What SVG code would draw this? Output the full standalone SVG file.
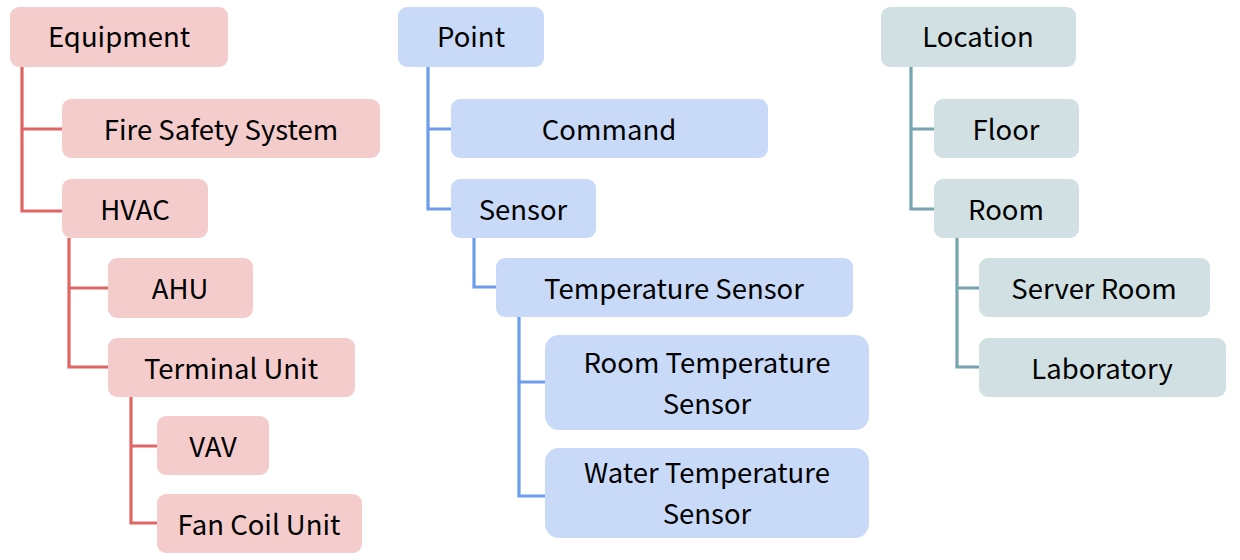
<svg xmlns="http://www.w3.org/2000/svg" width="1240" height="560" viewBox="0 0 1240 560">
<style>
text{font-family:"Noto Sans CJK SC","Noto Sans",sans-serif;font-size:27.5px;fill:#000;text-anchor:middle}
.r rect{fill:#f4cccc}
.b rect{fill:#c9daf8}
.t rect{fill:#d0e0e3}
.c path{fill:none;stroke-width:3.2}
.cr{stroke:#e06666}
.cb{stroke:#6d9eeb}
.ct{stroke:#76a5af}
</style>
<rect width="1240" height="560" fill="#fff"/>
<g id="connectors" class="c">
<path class="cr" d="M22 67V211H62M22 129H62"/>
<path class="cr" d="M69 238V367H108M69 288H108"/>
<path class="cr" d="M131 397V523H157M131 446H157"/>
<path class="cb" d="M428 67V209H451M428 129H451"/>
<path class="cb" d="M474 238V287H496"/>
<path class="cb" d="M519 317V496H545M519 382H545"/>
<path class="ct" d="M911 67V209H934M911 129H934"/>
<path class="ct" d="M957 238V367H979M957 288H979"/>
</g>
<g id="equipment" class="r"><rect x="10" y="7" width="218" height="60" rx="9"/><text x="119" y="47">Equipment</text></g>
<g id="fire-safety" class="r"><rect x="62" y="99" width="318" height="59" rx="9"/><text x="221" y="140">Fire Safety System</text></g>
<g id="hvac" class="r"><rect x="62" y="179" width="146" height="59" rx="9"/><text x="135" y="220">HVAC</text></g>
<g id="ahu" class="r"><rect x="108" y="258" width="145" height="60" rx="9"/><text x="180" y="299">AHU</text></g>
<g id="terminal-unit" class="r"><rect x="108" y="338" width="247" height="59" rx="9"/><text x="231" y="379">Terminal Unit</text></g>
<g id="vav" class="r"><rect x="157" y="416" width="112" height="59" rx="9"/><text x="213" y="457">VAV</text></g>
<g id="fan-coil" class="r"><rect x="157" y="494" width="205" height="59" rx="9"/><text x="259" y="535">Fan Coil Unit</text></g>
<g id="point" class="b"><rect x="398" y="7" width="146" height="60" rx="9"/><text x="471" y="47">Point</text></g>
<g id="command" class="b"><rect x="451" y="99" width="317" height="59" rx="9"/><text x="609" y="140">Command</text></g>
<g id="sensor" class="b"><rect x="451" y="179" width="145" height="59" rx="9"/><text x="523" y="220">Sensor</text></g>
<g id="temp-sensor" class="b"><rect x="496" y="258" width="357" height="59" rx="9"/><text x="674" y="299">Temperature Sensor</text></g>
<g id="room-temp" class="b"><rect x="545" y="335" width="324" height="95" rx="14"/><text x="707" y="373">Room Temperature<tspan x="707" dy="40.5">Sensor</tspan></text></g>
<g id="water-temp" class="b"><rect x="545" y="448" width="324" height="90" rx="14"/><text x="707" y="483">Water Temperature<tspan x="707" dy="40.5">Sensor</tspan></text></g>
<g id="location" class="t"><rect x="881" y="7" width="195" height="60" rx="9"/><text x="978" y="47">Location</text></g>
<g id="floor" class="t"><rect x="934" y="99" width="145" height="59" rx="9"/><text x="1006" y="140">Floor</text></g>
<g id="room" class="t"><rect x="934" y="179" width="145" height="59" rx="9"/><text x="1006" y="220">Room</text></g>
<g id="server-room" class="t"><rect x="979" y="258" width="231" height="59" rx="9"/><text x="1094" y="299">Server Room</text></g>
<g id="laboratory" class="t"><rect x="979" y="338" width="247" height="59" rx="9"/><text x="1102" y="379">Laboratory</text></g>
</svg>
